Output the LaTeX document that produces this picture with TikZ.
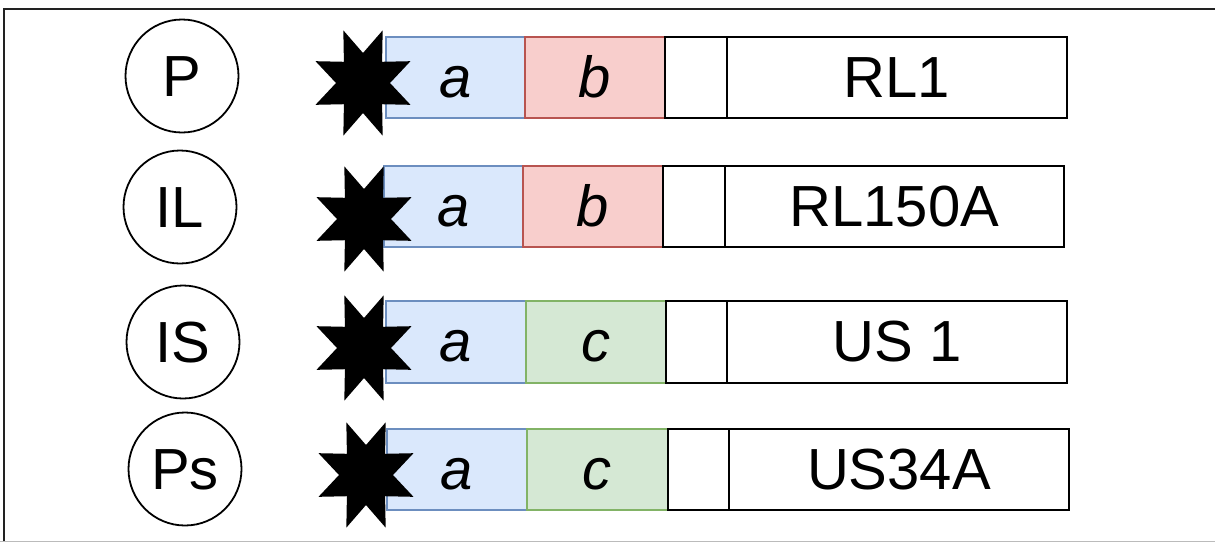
\documentclass[tikz,border=0pt]{standalone}
\usepackage{fontspec}
\setmainfont{Liberation Sans}
\definecolor{blueF}{HTML}{DAE8FC}
\definecolor{blueD}{HTML}{6C8EBF}
\definecolor{redF}{HTML}{F8CECC}
\definecolor{redD}{HTML}{B85450}
\definecolor{greenF}{HTML}{D5E8D4}
\definecolor{greenD}{HTML}{82B366}
\definecolor{frameD}{HTML}{222222}
\definecolor{frameL}{HTML}{BBBBBB}
\begin{document}
\begin{tikzpicture}[x=1pt,y=-1pt,
  cell/.style={draw=black, fill=white, line width=1.8pt, minimum height=81pt, inner sep=0pt,
    text height=40pt, text depth=0pt, font=\fontsize{58}{60}\selectfont, anchor=north west},
  acell/.style={cell, draw=blueD, fill=blueF, font=\fontsize{58}{60}\selectfont\itshape},
  bcell/.style={cell, draw=redD, fill=redF, font=\fontsize{58}{60}\selectfont\itshape},
  ccell/.style={cell, draw=greenD, fill=greenF, font=\fontsize{58}{60}\selectfont\itshape},
  tag/.style={circle, draw=black, line width=1.8pt, minimum size=113pt, inner sep=0pt,
    text height=40pt, text depth=0pt, font=\fontsize{58}{60}\selectfont},
  starshape/.pic={\fill[black] (0:27pt and 30pt)
      \foreach \k in {0,...,7}{ -- ({22.5+45*\k}:51.4pt and 57pt) -- ({45+45*\k}:27pt and 30pt)} -- cycle;}
]
\useasboundingbox (0,0) rectangle (1215,542);
% frame
\draw[frameL, line width=1pt] (0,541) -- (1215,541);
\draw[frameD, line width=1.8pt] (4,541) -- (4,9) -- (1215,9);

% row 1
\node[tag] (t1) at (182,76) {P};
\node[acell, minimum width=139pt] (a1) at (385,36) {a};
\node[bcell, minimum width=140pt] (b1) at (524,36) {b};
\node[cell, minimum width=62pt] (e1) at (664,36) {};
\node[cell, minimum width=340pt] (l1) at (726,36) {RL1};
\pic at (363,83) {starshape};

% row 2
\node[tag] (t2) at (180,207) {IL};
\node[acell, minimum width=139pt] (a2) at (383,165) {a};
\node[bcell, minimum width=140pt] (b2) at (522,165) {b};
\node[cell, minimum width=62pt] (e2) at (662,165) {};
\node[cell, minimum width=339pt] (l2) at (724,165) {RL150A};
\pic at (364,219) {starshape};

% row 3
\node[tag] (t3) at (183,342) {IS};
\node[acell, minimum width=140pt, minimum height=82pt] (a3) at (385,300) {a};
\node[ccell, minimum width=140pt, minimum height=82pt] (c3) at (525,300) {c};
\node[cell, minimum width=61pt, minimum height=82pt] (e3) at (665,300) {};
\node[cell, minimum width=340pt, minimum height=82pt] (l3) at (726,300) {US 1};
\pic at (364,348) {starshape};

% row 4
\node[tag] (t4) at (185,469) {Ps};
\node[acell, minimum width=140pt] (a4) at (386,428) {a};
\node[ccell, minimum width=141pt] (c4) at (526,428) {c};
\node[cell, minimum width=61pt] (e4) at (667,428) {};
\node[cell, minimum width=340pt] (l4) at (728,428) {US34A};
\pic at (366,475) {starshape};
\end{tikzpicture}
\end{document}
